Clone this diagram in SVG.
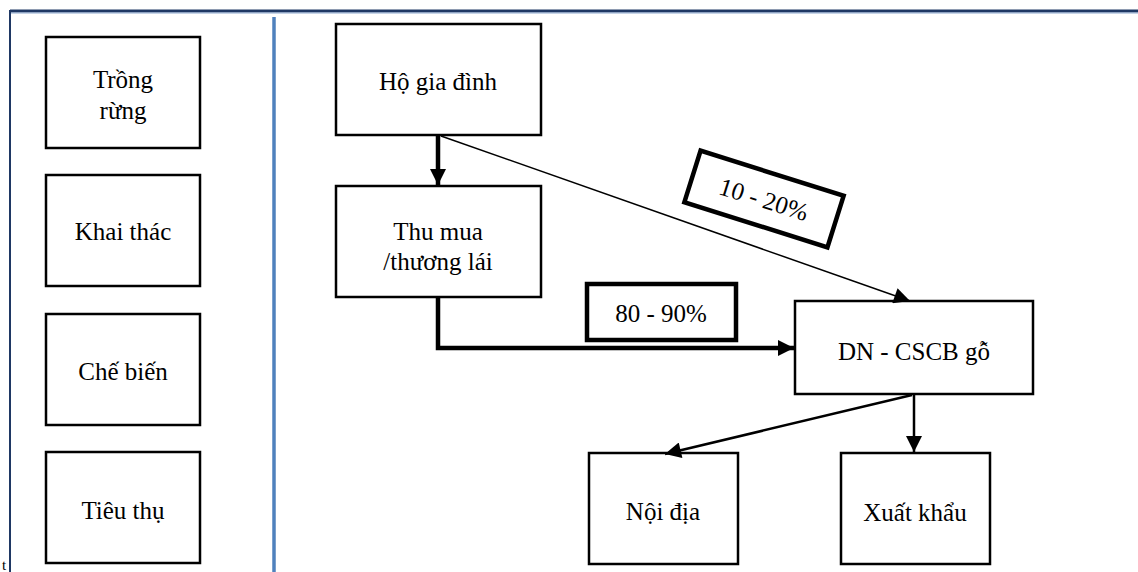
<svg xmlns="http://www.w3.org/2000/svg" width="1138" height="572" viewBox="0 0 1138 572">
<defs>
<style>
.box{fill:#fff;stroke:#000;stroke-width:2.5}
.lbl{fill:#fff;stroke:#000;stroke-width:4.5}
.t{font-family:'Liberation Serif','Times New Roman','DejaVu Serif',serif;font-size:25px;fill:#000;text-anchor:middle}
.thin{fill:none;stroke:#000;stroke-width:1.5}
.med{fill:none;stroke:#000;stroke-width:2.5}
.thick{fill:none;stroke:#000;stroke-width:4.5}
</style>
<marker id="ah" viewBox="0 0 10 10" refX="10" refY="5" markerWidth="18" markerHeight="16" markerUnits="userSpaceOnUse" orient="auto"><path d="M0,0L10,5L0,10z" fill="#000"/></marker>
</defs>
<rect width="1138" height="572" fill="#fff"/>
<g id="frame">
<line x1="10" y1="11" x2="1138" y2="11" stroke="#1f3864" stroke-width="3"/>
<line x1="10" y1="13" x2="1138" y2="13" stroke="#8ea9d0" stroke-width="1"/>
<line x1="10" y1="10" x2="10" y2="572" stroke="#1f3864" stroke-width="2"/>
<line x1="274" y1="17" x2="274" y2="572" stroke="#4f81bd" stroke-width="3.5"/>
<text class="t" x="2" y="570" style="font-size:15px;text-anchor:start">t</text>
</g>
<g id="trong-rung"><rect class="box" x="46" y="37" width="154" height="111"/><text class="t" x="123" y="88">Trồng</text><text class="t" x="123" y="119">rừng</text></g>
<g id="khai-thac"><rect class="box" x="46" y="175" width="154" height="111"/><text class="t" x="123" y="240">Khai thác</text></g>
<g id="che-bien"><rect class="box" x="46" y="314" width="154" height="111"/><text class="t" x="123" y="380">Chế biến</text></g>
<g id="tieu-thu"><rect class="box" x="46" y="452" width="154" height="111"/><text class="t" x="123" y="519">Tiêu thụ</text></g>
<g id="ho-gia-dinh"><rect class="box" x="336" y="24" width="205" height="111"/><text class="t" x="438" y="90">Hộ gia đình</text></g>
<g id="thu-mua"><rect class="box" x="336" y="186" width="205" height="111"/><text class="t" x="438" y="240">Thu mua</text><text class="t" x="438" y="270">/thương lái</text></g>
<g id="dn-cscb"><rect class="box" x="795" y="301" width="238" height="93"/><text class="t" x="914" y="360">DN - CSCB gỗ</text></g>
<g id="noi-dia"><rect class="box" x="589" y="453" width="149" height="111"/><text class="t" x="663" y="520">Nội địa</text></g>
<g id="xuat-khau"><rect class="box" x="841" y="453" width="149" height="111"/><text class="t" x="915" y="521">Xuất khẩu</text></g>
<g id="connectors">
<line class="thick" x1="438" y1="135" x2="438" y2="185" marker-end="url(#ah)"/>
<line class="thin" x1="441" y1="136" x2="910" y2="301" marker-end="url(#ah)"/>
<polyline class="thick" points="438,297 438,348 794,348" marker-end="url(#ah)"/>
<line class="med" x1="914" y1="394" x2="914" y2="452" marker-end="url(#ah)"/>
<line class="med" x1="912" y1="395" x2="665" y2="454" marker-end="url(#ah)"/>
</g>
<g id="label-80-90"><rect class="lbl" x="587" y="284" width="149" height="56"/><text class="t" x="661" y="322">80 - 90%</text></g>
<g id="label-10-20" transform="translate(764,199) rotate(17.5)"><rect class="lbl" x="-75" y="-27" width="150" height="54"/><text class="t" x="0" y="9">10 - 20%</text></g>
</svg>
